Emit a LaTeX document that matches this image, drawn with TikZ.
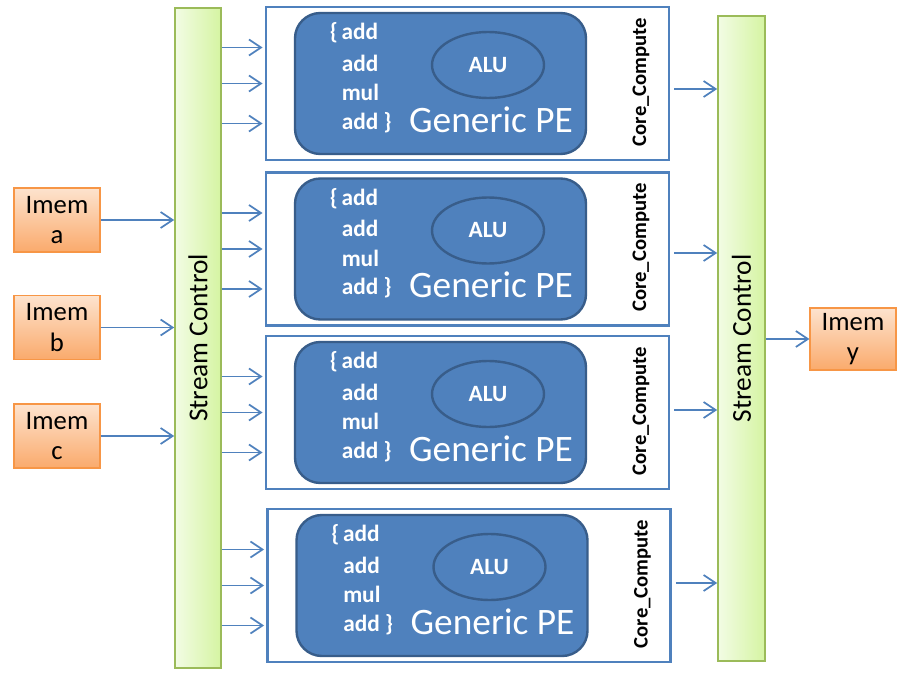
\documentclass[tikz,border=0pt]{standalone}
\usepackage{fontspec}
\setmainfont{Carlito}
\usetikzlibrary{arrows.meta,calc}
\definecolor{bl}{HTML}{4F81BD}
\definecolor{bldk}{HTML}{385D8A}
\definecolor{grb}{HTML}{9BBB59}
\definecolor{grl}{HTML}{F2FCE4}
\definecolor{grd}{HTML}{D5F4A2}
\definecolor{orb}{HTML}{F79646}
\definecolor{orl}{HTML}{FDE3CE}
\definecolor{ord}{HTML}{FAAA6C}
\tikzset{
  sc/.style={draw=grb,line width=1.2pt,left color=grl,right color=grd,minimum width=34.5pt,inner sep=0pt},
  sclab/.style={rotate=90,font=\fontsize{20.5}{22}\selectfont,inner sep=0pt},
  imem/.style={draw=orb,line width=0.9pt,top color=orl,bottom color=ord,minimum width=64.5pt,minimum height=48pt,inner sep=0pt,align=center,font=\fontsize{20}{23}\selectfont,text=black},
  core/.style={draw=bl,line width=2.2pt,fill=white,minimum width=302.25pt,minimum height=114.75pt,inner sep=0pt},
  pe/.style={draw=bldk,line width=1.8pt,fill=bl,rounded corners=19pt,minimum width=218.25pt,minimum height=105.75pt,inner sep=0pt},
  alu/.style={ellipse,draw=bldk,line width=1.8pt,fill=bl,minimum width=84pt,minimum height=49.5pt,inner sep=0pt,text=white,font=\bfseries\fontsize{17.5}{18}\selectfont},
  op/.style={text=white,font=\bfseries\fontsize{17.5}{18}\selectfont,inner sep=0pt,anchor=west},
  gpe/.style={text=white,font=\fontsize{28}{30}\selectfont,inner sep=0pt},
  cclab/.style={rotate=90,font=\bfseries\fontsize{15.5}{16}\selectfont,inner sep=0pt},
  arr/.style={draw=bl,line width=1.3pt,-{Straight Barb[length=9pt,width=12pt,line width=1.3pt]}}
}
\usetikzlibrary{shapes.geometric}
\begin{document}
\begin{tikzpicture}[x=0.75pt,y=-0.75pt]
\useasboundingbox (0,0) rectangle (910,681);
% stream controls
\node[sc,minimum height=495pt] (scL) at (198,338) {};
\node[sclab] (scLt) at (scL.center) {Stream Control};
\node[sc,minimum height=483.75pt,minimum width=35.25pt] (scR) at (741.5,338.5) {};
\node[sclab] (scRt) at (scR.center) {Stream Control};
% imem boxes
\node[imem] (ima) at (57,220) {Imem\\a};
\node[imem] (imb) at (57,327.5) {Imem\\b};
\node[imem] (imc) at (57,436) {Imem\\c};
\node[imem,minimum height=46.5pt] (imy) at (853,339) {Imem\\y};
\draw[arr] (ima.east) -- (ima.east -| scL.west);
\draw[arr] (imb.east) -- (imb.east -| scL.west);
\draw[arr] (imc.east) -- (imc.east -| scL.west);
\draw[arr] (imy.west -| scR.east) -- (imy.west);
% core compute blocks
\foreach \i/\cx/\cy/\px/\dy in {1/467.5/83.5/440.5/5.5, 2/467.5/249/440.5/4, 3/467.5/412.5/440.5/-2.5, 4/469/585.5/442/-2.5}{
  \node[core] (cc\i) at (\cx,\cy) {};
  \node[pe] (pe\i) at (\px,\cy) {};
  \node[alu] (alu\i) at ($(pe\i.center)+(47.5,-18.5)$) {ALU};
  \node[op] (o1\i) at ($(pe\i.center)+(-111,-50.5)$) {\{\,add};
  \node[op] (o2\i) at ($(pe\i.center)+(-99,-20.5)$) {add};
  \node[op] (o3\i) at ($(pe\i.center)+(-99,9)$) {mul};
  \node[op] (o4\i) at ($(pe\i.center)+(-99,39)$) {add \}};
  \node[gpe] (g\i) at ($(pe\i.center)+(50.5,36)$) {Generic PE};
  \node[cclab] (cl\i) at ($(cc\i.center)+(173.5,-1.5)$) {Core\_Compute};
  \coordinate (la\i) at ($(cc\i.west)+(-2,-36)$);
  \coordinate (lb\i) at ($(cc\i.west)+(-2,0)$);
  \coordinate (lc\i) at ($(cc\i.west)+(-2,40)$);
  \draw[arr] (scL.east |- la\i) -- (la\i);
  \draw[arr] (scL.east |- lb\i) -- (lb\i);
  \draw[arr] (scL.east |- lc\i) -- (lc\i);
  \coordinate (r\i) at ($(cc\i.east)+(4,\dy)$);
  \draw[arr] (r\i) -- (scR.west |- r\i);
}
\end{tikzpicture}
\end{document}
